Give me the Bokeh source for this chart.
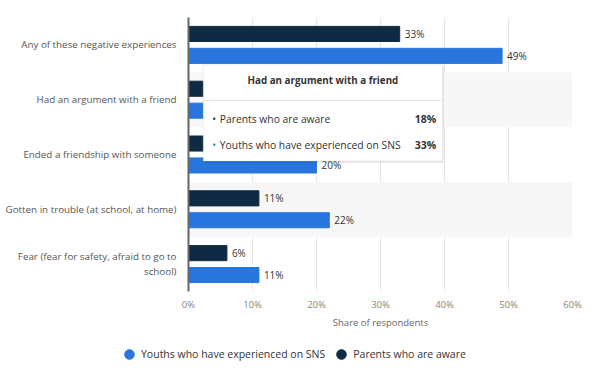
from bokeh.plotting import figure
from bokeh.layouts import column
from bokeh.models import ColumnDataSource, FixedTicker, Legend, LegendItem, BoxAnnotation, Label
from bokeh.core.properties import value
from bokeh.embed import file_html
from bokeh.resources import INLINE

categories = [
    "Any of these negative experiences",
    "Had an argument with a friend",
    "Ended a friendship with someone",
    "Gotten in trouble (at school, at home)",
    "Fear (fear for safety, afraid to go to\nschool)",
]
youths = [49, 33, 20, 22, 11]
parents = [33, 18, 12, 11, 6]
series_names = ["Youths who have experienced on SNS", "Parents who are aware"]
x_ticks = [0, 10, 20, 30, 40, 50, 60]
x_tick_labels = ["0%", "10%", "20%", "30%", "40%", "50%", "60%"]
tooltip_index = 1

BLUE = "#2876dd"
NAVY = "#0f2a43"
FONT = "Open Sans"

n = len(categories)
pos = [n - 1 - i for i in range(n)]
off = 0.2
bar_h = 0.275

src = ColumnDataSource(dict(
    y_par=[p_ + off for p_ in pos],
    y_you=[p_ - off for p_ in pos],
    youths=youths,
    parents=parents,
    lab_you=[f"{v}%" for v in youths],
    lab_par=[f"{v}%" for v in parents],
))

p = figure(width=584, height=339, x_range=(0, 60), y_range=(-0.5, n - 0.5),
           output_backend="svg", toolbar_location=None,
           min_border_left=188, min_border_right=12, min_border_top=17, min_border_bottom=48)
p.outline_line_color = None
p.background_fill_color = "white"

# grid
p.xgrid.ticker = FixedTicker(ticks=x_ticks)
p.xgrid.grid_line_color = "#e6e6e6"
p.xgrid.grid_line_width = 1
p.ygrid.ticker = FixedTicker(ticks=[0.5, 1.5, 2.5, 3.5])
p.ygrid.grid_line_color = None
p.ygrid.band_fill_color = "#f7f7f7"
p.ygrid.band_fill_alpha = 1

# axes
p.xaxis.ticker = FixedTicker(ticks=x_ticks)
p.xaxis.major_label_overrides = {t: l for t, l in zip(x_ticks, x_tick_labels)}
p.xaxis.axis_line_color = None
p.xaxis.major_tick_line_color = None
p.xaxis.major_tick_out = 0
p.xaxis.major_tick_in = 0
p.xaxis.minor_tick_line_color = None
p.xaxis.major_label_text_font = FONT
p.xaxis.major_label_text_font_size = "9.5px"
p.xaxis.major_label_text_color = "#888888"
p.xaxis.major_label_standoff = 6
p.xaxis.axis_label = "Share of respondents"
p.xaxis.axis_label_text_font = FONT
p.xaxis.axis_label_text_font_size = "9.5px"
p.xaxis.axis_label_text_font_style = "normal"
p.xaxis.axis_label_text_color = "#666666"
p.xaxis.axis_label_standoff = 2

p.yaxis.ticker = FixedTicker(ticks=pos)
p.yaxis.major_label_overrides = {pp: c for pp, c in zip(pos, categories)}
p.yaxis.axis_line_color = "#666666"
p.yaxis.axis_line_width = 2
p.yaxis.major_tick_line_color = None
p.yaxis.major_tick_out = 0
p.yaxis.major_tick_in = 0
p.yaxis.minor_tick_line_color = None
p.yaxis.major_label_text_font = FONT
p.yaxis.major_label_text_font_size = "9.8px"
p.yaxis.major_label_text_color = "#555555"
p.yaxis.major_label_standoff = 12

r_par = p.hbar(y="y_par", right="parents", left=0, height=bar_h, source=src,
               fill_color=NAVY, line_color=NAVY)
r_you = p.hbar(y="y_you", right="youths", left=0, height=bar_h, source=src,
               fill_color=BLUE, line_color=BLUE)

p.text(x="parents", y="y_par", text="lab_par", source=src, x_offset=5,
       text_baseline="middle", text_font=value(FONT), text_font_size="10px", text_color="#333333")
p.text(x="youths", y="y_you", text="lab_you", source=src, x_offset=5,
       text_baseline="middle", text_font=value(FONT), text_font_size="10px", text_color="#333333")

# tooltip overlay (hover on "Had an argument with a friend")
tl, tr, tt, tb = 2.3, 39.7, 3.645, 1.882
p.add_layout(BoxAnnotation(left=tl + 0.25, right=tr + 0.25, top=tt - 0.03, bottom=tb - 0.035,
                           fill_color="#000000", fill_alpha=0.08, line_color=None))
p.add_layout(BoxAnnotation(left=tl, right=tr, top=tt, bottom=tb,
                           fill_color="white", fill_alpha=1, line_color="#cccccc", line_width=1))
p.add_layout(BoxAnnotation(left=tl, right=tr, top=2.995, bottom=2.975,
                           fill_color="#e6e6e6", fill_alpha=1, line_color=None))
tf = dict(text_font=FONT, text_baseline="middle")
p.add_layout(Label(x=(tl + tr) / 2, y=3.355, text=categories[tooltip_index], text_align="center",
                   text_font_size="9.8px", text_font_style="bold", text_color="#333333", **tf))
rows = [(parents, series_names[1], NAVY, 2.645), (youths, series_names[0], BLUE, 2.173)]
for vals, name, col, yy in rows:
    p.add_layout(Label(x=3.7, y=yy, text="•", text_font_size="10px", text_color=col, **tf))
    p.add_layout(Label(x=4.9, y=yy, text=name, text_font_size="10.3px", text_color="#333333", **tf))
    p.add_layout(Label(x=38.7, y=yy, text=f"{vals[tooltip_index]}%", text_align="right",
                       text_font_size="10.5px", text_font_style="bold", text_color="#333333", **tf))

# legend in its own strip
lg = figure(width=584, height=30, x_range=(0, 1), y_range=(0, 1),
            output_backend="svg", toolbar_location=None, min_border=0)
lg.axis.visible = False
lg.grid.visible = False
lg.outline_line_color = None
aligned = True
if hasattr(lg, "frame_align"):
    lg.frame_align = False
    p.frame_align = False
    aligned = False
nan = float("nan")
d_you = lg.scatter(x=[nan], y=[nan], marker="circle", size=10, fill_color=BLUE, line_color=BLUE)
d_par = lg.scatter(x=[nan], y=[nan], marker="circle", size=10, fill_color=NAVY, line_color=NAVY)
legend = Legend(items=[LegendItem(label=series_names[0], renderers=[d_you]),
                       LegendItem(label=series_names[1], renderers=[d_par])],
                orientation="horizontal", location=(-70 if aligned else 117, 3),
                label_text_font=FONT, label_text_font_size="10.5px", label_text_color="#333333",
                glyph_width=24, glyph_height=24, border_line_color=None, spacing=4,
                margin=0, padding=0, label_standoff=0, background_fill_alpha=0)
lg.add_layout(legend, "center")

open("out.html", "w").write(file_html(column(p, lg), INLINE))
